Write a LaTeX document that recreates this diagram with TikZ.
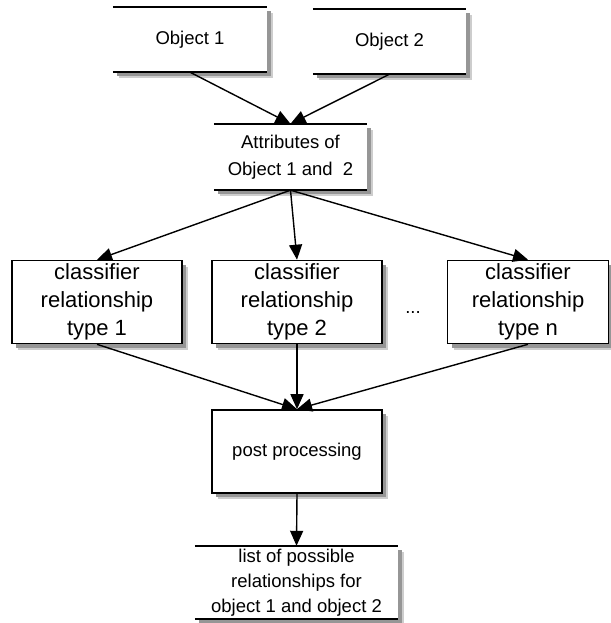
\documentclass[tikz,border=0pt]{standalone}
\usepackage{fontspec}
\setmainfont{Liberation Sans}
\usetikzlibrary{arrows.meta}
\definecolor{shdark}{RGB}{150,150,150}
\definecolor{shlight}{RGB}{205,205,205}
\begin{document}
\begin{tikzpicture}[x=1pt,y=-1pt,
  openbox/.style={fill=white,inner sep=0pt,align=center,
     font=\fontsize{18.5}{27}\selectfont},
  fullbox/.style={fill=white,draw,line width=1.6pt,inner sep=0pt,align=center,
     font=\fontsize{22}{28}\selectfont},
  edge/.style={line width=1.6pt},
  arr/.style={line width=1.4pt,-{Triangle[length=15pt,width=13pt]}}
]
\useasboundingbox (0,0) rectangle (610,623);
% shadows (drawn first, offset down-right)
\foreach \cx/\cy/\w/\h in {190/39.5/154/65, 389.5/41.5/153/65, 290.5/157/153/66,
    296.5/582.5/203/73, 97/302/170/83, 297/302/170/83, 528/302/161/83, 297/451.5/170/83}{
  \fill[shlight] (\cx-\w/2+6,\cy-\h/2+6) rectangle (\cx+\w/2+6,\cy+\h/2+6);
  \fill[shdark] (\cx-\w/2+4,\cy-\h/2+4) rectangle (\cx+\w/2+4,\cy+\h/2+4);
}
% open boxes (top and bottom rules only)
\node[openbox,minimum width=154pt,minimum height=65pt] (o1) at (190,39.5) {Object 1};
\node[openbox,minimum width=153pt,minimum height=65pt] (o2) at (389.5,41.5) {Object 2};
\node[openbox,minimum width=153pt,minimum height=66pt] (at) at (290.5,157) {Attributes of\\Object 1 and~~2};
\node[openbox,minimum width=203pt,minimum height=73pt,font=\fontsize{18.5}{25}\selectfont] (ls) at (296.5,582.5) {list of possible\\relationships for\\object 1 and object 2};
\foreach \n in {o1,o2,at,ls}{
  \draw[edge] (\n.north west) -- (\n.north east);
  \draw[edge] (\n.south west) -- (\n.south east);
}
% full boxes
\node[fullbox,minimum width=170pt,minimum height=83pt] (c1) at (97,302) {classifier\\relationship\\type 1};
\node[fullbox,minimum width=170pt,minimum height=83pt] (c2) at (297,302) {classifier\\relationship\\type 2};
\node[fullbox,minimum width=161pt,minimum height=83pt] (c3) at (528,302) {classifier\\relationship\\type n};
\node[font=\fontsize{18.5}{22}\selectfont] (dots) at (413,313) {...};
\node[fullbox,minimum width=170pt,minimum height=83pt,font=\fontsize{18.5}{22}\selectfont] (pp) at (297,451.5) {post processing};
% connectors
\draw[arr] (o1.south) -- (at.north);
\draw[arr] (o2.south) -- (at.north);
\draw[arr] (at.south) -- (c1.north);
\draw[arr] (at.south) -- (c2.north);
\draw[arr] (at.south) -- (c3.north);
\draw[arr] (c1.south) -- (pp.north);
\draw[arr] (c2.south) -- (pp.north);
\draw[arr] (c3.south) -- (pp.north);
\draw[arr] (pp.south) -- (ls.north);
\end{tikzpicture}
\end{document}
